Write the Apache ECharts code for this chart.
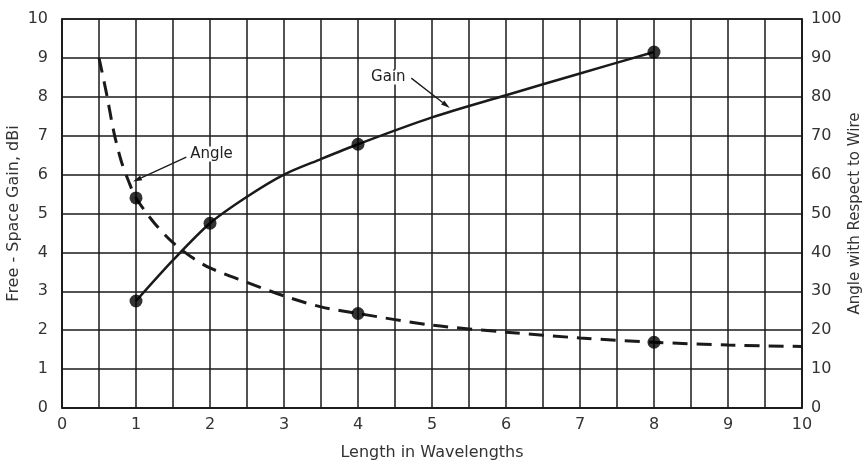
<!DOCTYPE html>
<html>
<head>
<meta charset="utf-8">
<script src="https://cdn.jsdelivr.net/npm/echarts@6/dist/echarts.min.js"></script>
<style>html,body{margin:0;padding:0;background:#fff;}#c{width:864px;height:464px;}</style>
</head>
<body>
<div id="c"></div>
<script>
// ---- data ----
var xTicks = [0,1,2,3,4,5,6,7,8,9,10];
var gainCurve = [[1,2.75],[1.5,3.8],[2,4.75],[2.5,5.43],[3,6.0],[3.5,6.4],[4,6.78],[5,7.47],[6,8.04],[7,8.6],[8,9.15]];
var gainMarkers = [[1,2.75],[2,4.75],[4,6.78],[8,9.15]];
var angleCurve = [[0.5,90],[0.6,81],[0.7,71],[0.8,63.5],[0.9,58.3],[1,54],[1.25,47.5],[1.5,42.5],[1.75,38.8],[2,36],[2.5,32.3],[3,28.8],[3.5,26],[4,24.3],[5,21.3],[6,19.5],[7,18],[8,16.9],[9,16.2],[10,15.8]];
var angleMarkers = [[1,54],[4,24.3],[8,16.9]];
var gainLabel = 'Gain';
var angleLabel = 'Angle';

var FONT = '"DejaVu Sans", sans-serif';
var INK = '#1a1a1a';
var chart = echarts.init(document.getElementById('c'), null, {renderer:'canvas'});
var option = {
  animation: false,
  backgroundColor: '#fff',
  grid: {left: 62, right: 62, top: 19, bottom: 56, show: true, borderColor: INK, borderWidth: 1.5,
         containLabel: false, outerBoundsMode: 'none'},
  xAxis: {
    type: 'value', min: 0, max: 10, interval: 0.5,
    name: 'Length in Wavelengths', nameLocation: 'middle', nameGap: 37, nameMoveOverlap: false,
    nameTextStyle: {fontFamily: FONT, fontSize: 16, color: '#333'},
    axisLine: {show: true, lineStyle: {color: INK, width: 1.5}},
    axisTick: {show: false},
    axisLabel: {margin: 9, fontFamily: FONT, fontSize: 16, color: '#333',
      formatter: function(v){ return xTicks.indexOf(v) >= 0 ? String(v) : ''; }},
    splitLine: {show: true, lineStyle: {color: INK, width: 1.5}}
  },
  yAxis: [{
    type: 'value', min: 0, max: 10, interval: 1, position: 'left',
    name: 'Free - Space Gain, dBi', nameLocation: 'middle', nameGap: 40, nameRotate: 90, nameMoveOverlap: false,
    nameTextStyle: {fontFamily: FONT, fontSize: 16, color: '#333'},
    axisLine: {show: true, lineStyle: {color: INK, width: 1.5}},
    axisTick: {show: false},
    axisLabel: {margin: 14, fontFamily: FONT, fontSize: 16, color: '#333'},
    splitLine: {show: true, lineStyle: {color: INK, width: 1.5}}
  },{
    type: 'value', min: 0, max: 100, interval: 10, position: 'right',
    name: 'Angle with Respect to Wire', nameLocation: 'middle', nameGap: 46, nameRotate: 90, nameMoveOverlap: false,
    nameTextStyle: {fontFamily: FONT, fontSize: 15, color: '#333'},
    axisLine: {show: true, lineStyle: {color: INK, width: 1.5}},
    axisTick: {show: false},
    axisLabel: {margin: 9, fontFamily: FONT, fontSize: 16, color: '#333'},
    splitLine: {show: false}
  }],
  series: [
    {type: 'line', name: 'Gain', yAxisIndex: 0, data: gainCurve, smooth: 0.3,
     showSymbol: false, lineStyle: {color: INK, width: 2.5}, z: 3},
    {type: 'scatter', yAxisIndex: 0, data: gainMarkers, symbol: 'circle', symbolSize: 13,
     itemStyle: {color: '#000'}, z: 5},
    {type: 'line', name: 'Angle', yAxisIndex: 1, data: angleCurve, smooth: 0.3,
     showSymbol: false, lineStyle: {color: INK, width: 3, type: [15, 9]}, z: 3},
    {type: 'scatter', yAxisIndex: 1, data: angleMarkers, symbol: 'circle', symbolSize: 13,
     itemStyle: {color: '#000'}, z: 5}
  ]
};
chart.setOption(option);

function P(x, y){ return chart.convertToPixel({xAxisIndex:0, yAxisIndex:0}, [x, y]); }
function arrow(from, to){
  var dx = to[0]-from[0], dy = to[1]-from[1];
  var L = Math.sqrt(dx*dx+dy*dy), ux = dx/L, uy = dy/L;
  var len = 9, w = 2.6;
  var bx = to[0]-ux*len, by = to[1]-uy*len;
  return [
    {type:'line', shape:{x1:from[0], y1:from[1], x2:bx, y2:by}, style:{stroke:INK, lineWidth:1.3}, z:10},
    {type:'polygon', shape:{points:[[to[0],to[1]],[bx-uy*w,by+ux*w],[bx+uy*w,by-ux*w]]}, style:{fill:INK}, z:10}
  ];
}
var gText = P(4.41, 8.51), gFrom = P(4.72, 8.48), gTo = P(5.24, 7.71);
var aText = P(2.02, 6.53), aFrom = P(1.68, 6.45), aTo = P(0.96, 5.82);
var els = [
  {type:'text', x:gText[0], y:gText[1], style:{text:gainLabel, font:'15px '+FONT, fill:'#222', align:'center', verticalAlign:'middle', backgroundColor:'#fff', padding:[0,1]}, z:11},
  {type:'text', x:aText[0], y:aText[1], style:{text:angleLabel, font:'15px '+FONT, fill:'#222', align:'center', verticalAlign:'middle', backgroundColor:'#fff', padding:[0,1]}, z:11}
].concat(arrow(gFrom, gTo)).concat(arrow(aFrom, aTo));
chart.setOption({graphic: els});
</script>
</body>
</html>
